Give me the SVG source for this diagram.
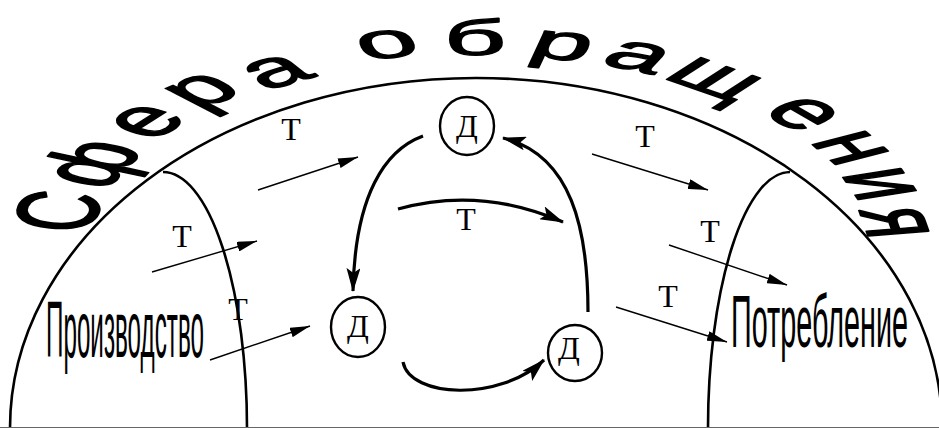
<svg xmlns="http://www.w3.org/2000/svg" width="939" height="428" viewBox="0 0 939 428">
<style>
.bg{fill:#fff}
.line{fill:none;stroke:#000;stroke-width:2.6}
.thick{fill:none;stroke:#000;stroke-width:3.2}
.thin{fill:none;stroke:#000;stroke-width:1.4}
.ring{fill:none;stroke:#000;stroke-width:2.4}
.arc{font-family:"Liberation Sans",Arial,sans-serif;font-size:100px;text-anchor:middle;fill:#000;stroke:#000;stroke-width:2.5;stroke-linejoin:round}
.mono{font-family:"Liberation Serif","Times New Roman",serif;font-size:32px;text-anchor:middle;fill:#000}
.lbl{font-family:"Liberation Sans",Arial,sans-serif;fill:#000}
</style>
<defs>
<marker id="big" viewBox="0 0 24 14" refX="23" refY="7" markerWidth="24" markerHeight="14" markerUnits="userSpaceOnUse" orient="auto"><path d="M0,0 L24,7 L0,14 L5,7 Z" fill="#000"/></marker>
<marker id="small" viewBox="0 0 20 10" refX="20" refY="5" markerWidth="20" markerHeight="10" markerUnits="userSpaceOnUse" orient="auto"><path d="M0,0 L20,5 L0,10 Z" fill="#000"/></marker>
</defs>
<rect class="bg" x="0" y="0" width="939" height="428"/>

<g id="sphere">
<path class="line" d="M10,428 A466,350 0 0 1 942,428"/>
</g>
<g id="production">
<path class="line" d="M163,172 A84,256 0 0 1 247,428"/>
<text class="lbl" x="46" y="357" font-size="80" textLength="158" lengthAdjust="spacingAndGlyphs">Производство</text>
</g>
<g id="consumption">
<path class="line" d="M790,172 A82,256 0 0 0 708,428"/>
<text class="lbl" x="731" y="347" font-size="74" textLength="177" lengthAdjust="spacingAndGlyphs">Потребление</text>
</g>

<g id="title">
<text class="arc" transform="matrix(0.247 -0.544 1.120 0.114 96.5 215)">С</text>
<text class="arc" transform="matrix(0.475 -0.503 1.034 0.219 124.8 170.1)">ф</text>
<text class="arc" transform="matrix(0.681 -0.434 0.894 0.315 171.5 130)">е</text>
<text class="arc" transform="matrix(0.829 -0.359 0.739 0.383 222.5 101)">р</text>
<text class="arc" transform="matrix(0.947 -0.271 0.558 0.437 291.5 83.4)">а</text>
<text class="arc" transform="matrix(1.058 -0.120 0.247 0.488 393.6 57.5)">о</text>
<text class="arc" transform="matrix(1.083 -0.004 0.008 0.500 475.3 55)">б</text>
<text class="arc" transform="matrix(1.062 0.111 -0.227 0.490 555.7 59)">р</text>
<text class="arc" transform="matrix(1.004 0.209 -0.431 0.464 625.8 69.1)">а</text>
<text class="arc" transform="matrix(0.898 0.313 -0.643 0.415 697.8 90.1)">щ</text>
<text class="arc" transform="matrix(0.725 0.415 -0.855 0.335 779.8 122.7)">е</text>
<text class="arc" transform="matrix(0.550 0.482 -0.991 0.254 824.2 154.6)">н</text>
<text class="arc" transform="matrix(0.363 0.527 -1.083 0.168 850.8 188.4)">и</text>
<text class="arc" transform="matrix(0.195 0.550 -1.131 0.090 864.5 225)">я</text>
</g>

<g id="d-top">
<ellipse class="ring" cx="467" cy="126" rx="27" ry="29"/>
<text class="mono" x="467" y="137">Д</text>
</g>
<g id="d-left">
<ellipse class="ring" cx="358" cy="327" rx="27" ry="30"/>
<text class="mono" x="358" y="337">Д</text>
</g>
<g id="d-right">
<ellipse class="ring" cx="575" cy="353" rx="27" ry="28"/>
<text class="mono" x="569" y="359">Д</text>
</g>

<g id="connectors">
<path class="thick" d="M423,136 C385,150 355,195 353,291" marker-end="url(#big)"/>
<path class="thick" d="M588,312 C588,230 572,155 503,138" marker-end="url(#big)"/>
<path class="thick" d="M398,209 Q480,186 563,222" marker-end="url(#big)"/>
<path class="thick" d="M403,362 C410,398 500,402 544,360" marker-end="url(#big)"/>
<line class="thin" x1="258" y1="190" x2="358" y2="157" marker-end="url(#small)"/>
<line class="thin" x1="152" y1="272" x2="257" y2="241" marker-end="url(#small)"/>
<line class="thin" x1="210" y1="360" x2="310" y2="326" marker-end="url(#small)"/>
<line class="thin" x1="592" y1="154" x2="708" y2="190" marker-end="url(#small)"/>
<line class="thin" x1="669" y1="245" x2="787" y2="285" marker-end="url(#small)"/>
<line class="thin" x1="616" y1="307" x2="727" y2="342" marker-end="url(#small)"/>
<text class="mono" x="291" y="140">Т</text>
<text class="mono" x="182" y="247">Т</text>
<text class="mono" x="238" y="320">Т</text>
<text class="mono" x="466" y="230">Т</text>
<text class="mono" x="645" y="147">Т</text>
<text class="mono" x="710" y="242">Т</text>
<text class="mono" x="668" y="307">Т</text>
</g>
<line x1="0" y1="427.5" x2="939" y2="427.5" stroke="#666" stroke-width="1"/>
</svg>
